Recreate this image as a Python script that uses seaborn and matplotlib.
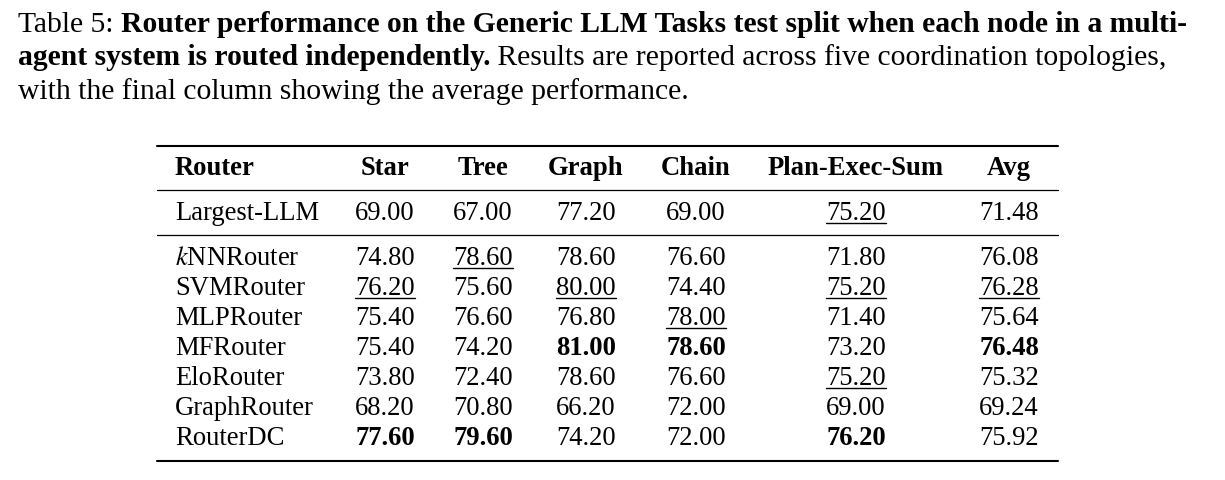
import matplotlib
matplotlib.use("Agg")
import matplotlib.pyplot as plt
import seaborn as sns

sns.set_theme(style="white")
plt.rcParams['font.family'] = ['Liberation Serif', 'DejaVu Serif']
plt.rcParams['mathtext.fontset'] = 'stix'
plt.rcParams['text.color'] = 'black'

columns = ["Router", "Star", "Tree", "Graph", "Chain", "Plan-Exec-Sum", "Avg"]
baseline = ["Largest-LLM", "69.00", "67.00", "77.20", "69.00", "75.20", "71.48"]
routers = ["$k$NNRouter", "SVMRouter", "MLPRouter", "MFRouter", "EloRouter", "GraphRouter", "RouterDC"]
star = ["74.80", "76.20", "75.40", "75.40", "73.80", "68.20", "77.60"]
tree = ["78.60", "75.60", "76.60", "74.20", "72.40", "70.80", "79.60"]
graph = ["78.60", "80.00", "76.80", "81.00", "78.60", "66.20", "74.20"]
chain = ["76.60", "74.40", "78.00", "78.60", "76.60", "72.00", "72.00"]
pes = ["71.80", "75.20", "71.40", "73.20", "75.20", "69.00", "76.20"]
avg = ["76.08", "76.28", "75.64", "76.48", "75.32", "69.24", "75.92"]
bold = {(4, 3), (4, 4), (4, 6), (7, 1), (7, 2), (7, 5)}
under = {(0, 5), (1, 2), (2, 1), (2, 3), (2, 5), (2, 6), (3, 4), (5, 5)}

W, H = 1225, 481
fig = plt.figure(figsize=(W/100, H/100), dpi=100)
ax = fig.add_axes([0, 0, 1, 1])
ax.set_xlim(0, W); ax.set_ylim(H, 0); ax.axis('off')
fig.canvas.draw()
r = fig.canvas.get_renderer()
CFS = 21.3
FS = 19.2

def width(t):
    return t.get_window_extent(renderer=r).width

def runs(x, y, parts, right=None):
    texts = []
    for txt, w in parts:
        t = ax.text(x, y, txt, fontsize=CFS, fontweight=w, va='baseline', ha='left', color='black')
        x += width(t)
        texts.append(t)

runs(18, 32, [("Table 5: ", "normal"), ("Router performance on the Generic LLM Tasks test split when each node in a multi-", "bold")])
runs(18, 65, [("agent system is routed independently.", "bold"), (" Results are reported across five coordination topologies,", "normal")])
runs(18, 99, [("with the final column showing the average performance.", "normal")])

colx = [175, 385, 483, 586, 696, 856, 1009]
for i, c in enumerate(columns):
    ax.text(colx[i], 175, c, fontsize=FS, fontweight='bold', va='baseline',
            ha='left' if i == 0 else 'center', color='black')

rows = [baseline] + [[routers[k], star[k], tree[k], graph[k], chain[k], pes[k], avg[k]] for k in range(len(routers))]
ys = [220] + [265 + 30*k for k in range(len(routers))]
for ri, (row, y) in enumerate(zip(rows, ys)):
    for ci, v in enumerate(row):
        t = ax.text(colx[ci], y, v, fontsize=FS, va='baseline',
                    ha='left' if ci == 0 else 'center', color='black',
                    fontweight='bold' if (ri, ci) in bold else 'normal')
        if (ri, ci) in under:
            w = width(t)
            ax.plot([colx[ci]-w/2, colx[ci]+w/2], [y+4, y+4], color='black', lw=1)

for y, lw in [(147, 1.5), (191, 0.9), (236, 0.9), (462, 1.5)]:
    ax.plot([157, 1058], [y, y], color='black', lw=lw)

fig.savefig("out.png", dpi=100, facecolor='white')
